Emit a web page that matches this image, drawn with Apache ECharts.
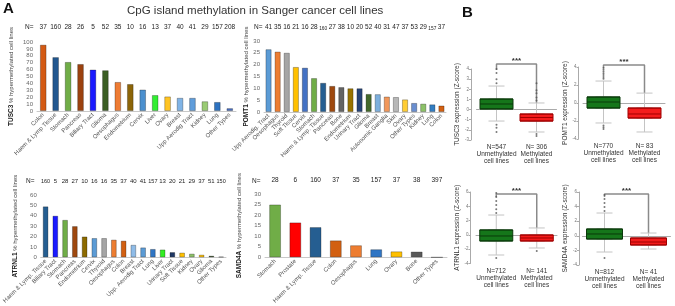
<!DOCTYPE html>
<html><head><meta charset="utf-8">
<script src="https://cdn.jsdelivr.net/npm/echarts@6/dist/echarts.min.js"></script>
<style>html,body{margin:0;padding:0;background:#fff}#c{width:675px;height:306px}</style>
</head><body><div id="c"></div>
<script>
// ---------- DATA ----------
const tusc3Cats = ['Colon','Haem & Lymp Tissue','Stomach','Pancreas','Biliary Tract','Glioma','Oesophagus','Endometrium','Cervix','Liver','Ovary','Breast','Upp Aerodig Tract','Kidney','Lung','Other Types'];
const tusc3Vals = [96,78,71,68,60,59,42,39,31,23,21,19,19,14,13,4];
const tusc3N = ['37','160','28','26','5','52','35','10','16','13','37','40','41','29','157','208'];

const pomt1Cats = ['Upp Aerodig. Tract','Oesophagus','Thyroid','Soft Tissue','Cervix','Stomach','Haem & Lymp. Tissue','Pancreas','Bone','Endometrium','Urinary Tract','Glioma','Breast','Autonomic Ganglia','Skin','Ovary','Other Types','Kidney','Lung','Colon'];
const pomt1Vals = [26.5,25.5,25,19,18.7,14.3,12.3,11,10.5,10,10,7.6,7.5,6.5,6.3,5.3,3.8,3.5,3.2,2.7];
const pomt1N = ['41','35','16','21','16','28','160','27','38','10','20','52','40','31','47','37','53','29','157','37'];

const atrnl1Cats = ['Haem & Lymp. Tissue','Biliary Tract','Stomach','Pancreas','Endometrium','Cervix','Thyroid','Oesophagus','Colon','Breast','Upp. Aerodig Tract','Lung','Liver','Urinary Tract','Soft Tissue','Kidney','Ovary','Glioma','Other Types'];
const atrnl1Vals = [49,40,36,30,20,18.5,18.5,17,16,12,9.5,8,7.5,5,4.5,3.5,2.5,1.5,0.7];
const atrnl1N = ['160','5','28','27','10','16','16','35','37','40','41','157','13','20','21','29','37','51','150'];

const samd4aCats = ['Stomach','Prostate','Haem & Lymp. Tissue','Colon','Oesophagus','Lung','Ovary','Bone','Other Types'];
const samd4aVals = [25,16.5,14.3,8,5.7,3.8,2.8,2.7,0];
const samd4aN = ['28','6','160','37','35','157','37','38','397'];

// box plots: [min, Q1, median, Q3, max]
const tusc3Groups = ['N=547\nUnmethylated\ncell lines','N= 306\nMethylated\ncell lines'];
const tusc3Box = [[-1.13,0.06,0.55,1.04,2.32],[-2.21,-1.13,-0.78,-0.44,0.65]];
const tusc3Out = [[0,4.0],[0,3.6],[0,3.0],[0,2.6],[0,-1.5],[0,-1.8],[0,-2.2],[1,2.6],[1,1.9],[1,1.6],[1,1.2],[1,0.9],[1,-2.4],[1,-2.6]];
const tusc3Bracket = [[0,3.9],[0,4.5],[1,4.5],[1,0.65]];

const pomt1Groups = ['N=770\nUnmethylated\ncell lines','N= 83\nMethylated\ncell lines'];
const pomt1Box = [[-2.22,-0.56,0.11,0.67,2.44],[-3.22,-1.67,-1.22,-0.56,1.1]];
const pomt1Out = [[0,3.9],[0,3.7],[0,3.5],[0,3.3],[0,3.1],[0,2.9],[0,2.7],[0,-2.5],[0,-2.7],[0,-2.9]];
const pomt1Bracket = [[0,3.9],[0,4.22],[1,4.22],[1,1.1]];

const atrnl1Groups = ['N=712\nUnmethylated\ncell lines','N= 141\nMethylated\ncell lines'];
const atrnl1Box = [[-2.81,-0.85,-0.15,0.69,2.78],[-1.83,-0.85,-0.43,-0.01,0.97]];
const atrnl1Out = [[0,5.86],[0,5.3],[0,4.74],[0,4.18],[0,3.6],[0,3.06],[0,-3.23],[1,-2.25]];
const atrnl1Bracket = [[0,5.3],[0,5.72],[1,5.72],[1,0.97]];

const samd4aGroups = ['N=812\nUnmethylated\ncell lines','N= 41\nMethylated\ncell lines'];
const samd4aBox = [[-2.22,-0.44,0.25,0.93,3.12],[-1.81,-1.26,-0.85,-0.3,0.38]];
const samd4aOut = [[0,5.59],[0,5.04],[0,4.5],[0,3.95],[0,3.4],[0,-3.04]];
const samd4aBracket = [[0,5.3],[0,5.73],[1,5.73],[1,0.38]];

// ---------- STYLE ----------
const FONT = 'Liberation Sans, Arial, sans-serif';
const col1 = ['#d35a14','#22578f','#70ad47','#9c420f','#1a1aff','#3b5e24','#ee7c34','#8c6508','#4b90cf','#33ee33','#ffc423','#80b4e6','#5f9ddb','#9acb74','#2d72c0','#4a6fc2'];
const col2 = ['#5b9bd5','#ed7d31','#a5a5a5','#ffc000','#4472c4','#70ad47','#255e91','#9e480e','#636363','#997300','#264478','#43682b','#7cafdd','#f1975a','#b7b7b7','#ffcd33','#698ed0','#8cc168','#327dc2','#d26012'];
const col3 = ['#255e91','#1a1aff','#70ad47','#9e480e','#8c6a00','#5b9bd5','#a5a5a5','#ed7d31','#d26012','#8fbce8','#5b9bd5','#2f75c4','#33ee22','#1f3864','#ffc000','#8cc168','#ffc000','#2e4a1c','#5077c4'];
const col4 = ['#70ad47','#ff0000','#255e91','#d26012','#ed7d31','#2f75c4','#ffc000','#595959','#888888'];

const grids=[], xAxes=[], yAxes=[], series=[], boxInfo=[];

function addBar(g, cats, vals, ns, colors, ymax, yint, gene, nameGap, gap, nMargin, nSize, nSmall){
  const gi = grids.length; grids.push(g);
  const xi = xAxes.length;
  xAxes.push({type:'category', gridIndex:gi, data:cats, axisLine:{lineStyle:{color:'#c8c8c8'}}, axisTick:{show:false},
    axisLabel:{interval:0, rotate:45, fontSize:6, color:'#555', margin:3, fontFamily:FONT}});
  xAxes.push({type:'category', gridIndex:gi, position:'top', data:ns, axisLine:{show:false}, axisTick:{show:false},
    axisLabel:{interval:0, fontSize:nSize, color:'#222', margin:nMargin, fontFamily:FONT,
      formatter: v => v.length > 2 ? '{s|' + v + '}' : v,
      rich:{s:{fontSize:nSmall, color:'#222', fontFamily:FONT}}}});
  const yi = yAxes.length;
  yAxes.push({type:'value', gridIndex:gi, min:0, max:ymax, interval:yint, axisLine:{show:false}, axisTick:{show:false},
    splitLine:{show:false}, axisLabel:{fontSize:6, color:'#666', margin:4, fontFamily:FONT},
    name:'{g|'+gene+'} % hypermethylated cell lines', nameLocation:'middle', nameGap:nameGap,
    nameTextStyle:{fontSize:6, color:'#444', fontFamily:FONT, rich:{g:{fontSize:6.5, fontWeight:'bold', color:'#222', fontFamily:FONT}}}});
  series.push({type:'bar', xAxisIndex:xi, yAxisIndex:yi, barCategoryGap:gap,
    data: vals.map((v,i)=>({value:v, itemStyle:{color:colors[i]}})),
    itemStyle:{borderColor:'rgba(0,0,0,0.35)', borderWidth:0.8}});
}

function addBox(g, groups, box, outs, bracket, ymin, ymax, yint, name, offset, nameGap, bw){
  const gi = grids.length; grids.push(g);
  const xi = xAxes.length;
  xAxes.push({type:'category', gridIndex:gi, data:groups, axisLine:{lineStyle:{color:'#aaa'}}, axisTick:{show:false},
    axisLabel:{interval:0, fontSize:6.5, color:'#333', lineHeight:7, margin:4, fontFamily:FONT}});
  xAxes.push({type:'category', gridIndex:gi, position:'top', data:groups, show:false});
  const yi = yAxes.length;
  yAxes.push({type:'value', gridIndex:gi, min:ymin, max:ymax, interval:yint, offset:offset,
    axisLine:{show:true, lineStyle:{color:'#aaa'}}, axisTick:{show:true, length:2, lineStyle:{color:'#aaa'}},
    splitLine:{show:false}, axisLabel:{fontSize:4.5, color:'#777', margin:2, fontFamily:FONT},
    name:name, nameLocation:'middle', nameGap:nameGap, nameTextStyle:{fontSize:6.5, color:'#333', fontFamily:FONT}});
  series.push({type:'line', xAxisIndex:xi, yAxisIndex:yi, data:bracket, symbol:'none', clip:false, z:1,
    lineStyle:{color:'#8a8a8a', width:1.5}, silent:true});
  series.push({type:'boxplot', xAxisIndex:xi, yAxisIndex:yi, boxWidth:[16,16], data:box, z:2,
    itemStyle:{color:'rgba(0,0,0,0)', borderColor:'#c4c4c4', borderWidth:1}, silent:true});
  series.push({type:'boxplot', xAxisIndex:xi+1, yAxisIndex:yi, boxWidth:[bw,bw], z:3, silent:true,
    data: box.map((b,i)=>({value:[b[1],b[1],b[2],b[3],b[3]],
      itemStyle: i===0 ? {color:'#15761a', borderColor:'#0a3a0a', borderWidth:1} : {color:'#f41c1c', borderColor:'#a00000', borderWidth:1}}))});
  series.push({type:'scatter', xAxisIndex:xi, yAxisIndex:yi, data:outs, symbolSize:2, z:4,
    itemStyle:{color:'#555'}, silent:true});
  boxInfo.push({xi, yi, top: bracket[1][1]});
}

addBar({left:37, top:42, width:199, height:69}, tusc3Cats, tusc3Vals, tusc3N, col1, 100, 10, 'TUSC3', 22, '48%', 11, 6.5, 6.5);
addBar({left:264, top:41, width:182, height:71}, pomt1Cats, pomt1Vals, pomt1N, col2, 30, 5, 'POMT1', 12, '34%', 10, 6.5, 4.8);
addBar({left:38, top:195, width:188, height:69}, atrnl1Cats, atrnl1Vals, atrnl1N, col3, 60, 10, 'ATRNL1', 22, '43%', 10.5, 6, 5.5);
addBar({left:265, top:194, width:182, height:70}, samd4aCats, samd4aVals, samd4aN, col4, 30, 5, 'SAMD4A', 22, '42%', 10, 6.5, 6.5);

addBox({left:476.5, top:69, width:80, height:71}, tusc3Groups, tusc3Box, tusc3Out, tusc3Bracket, -3, 4, 1, 'TUSC3 expression (Z-score)', 5.5, 9, 33);
addBox({left:583, top:67, width:82, height:72}, pomt1Groups, pomt1Box, pomt1Out, pomt1Bracket, -4, 4, 2, 'POMT1 expression (Z-score)', 4.5, 9, 33);
addBox({left:476, top:192, width:81, height:71.5}, atrnl1Groups, atrnl1Box, atrnl1Out, atrnl1Bracket, -4, 6, 2, 'ATRNL1 expression (Z-score)', 5.5, 9, 33);
addBox({left:582.5, top:192, width:88, height:73}, samd4aGroups, samd4aBox, samd4aOut, samd4aBracket, -4, 6, 2, 'SAMD4A expression (Z-score)', 3.5, 9, 36);

const chart = echarts.init(document.getElementById('c'), null, {renderer:'canvas'});
chart.setOption({
  animation:false,
  backgroundColor:'#fff',
  title:{text:'CpG island methylation in Sanger cancer cell lines', left:122, top:0,
    textStyle:{fontSize:11.5, fontWeight:'normal', color:'#333', fontFamily:FONT}},
  grid:grids, xAxis:xAxes, yAxis:yAxes, series:series
});

const graphics = [
  {type:'text', left:3, top:1, style:{text:'A', fontSize:15, fontWeight:'bold', fill:'#111', fontFamily:FONT}},
  {type:'text', left:462, top:5, style:{text:'B', fontSize:15, fontWeight:'bold', fill:'#111', fontFamily:FONT}},
  {type:'text', x:25, y:27, style:{text:'N=', fontSize:6.5, fill:'#222', fontFamily:FONT, textVerticalAlign:'middle'}},
  {type:'text', x:254, y:27, style:{text:'N=', fontSize:6.5, fill:'#222', fontFamily:FONT, textVerticalAlign:'middle'}},
  {type:'text', x:26, y:181, style:{text:'N=', fontSize:6.5, fill:'#222', fontFamily:FONT, textVerticalAlign:'middle'}},
  {type:'text', x:252, y:181, style:{text:'N=', fontSize:6.5, fill:'#222', fontFamily:FONT, textVerticalAlign:'middle'}}
];
boxInfo.forEach(b=>{
  const p0 = chart.convertToPixel({xAxisIndex:b.xi, yAxisIndex:b.yi}, [0, b.top]);
  const p1 = chart.convertToPixel({xAxisIndex:b.xi, yAxisIndex:b.yi}, [1, b.top]);
  graphics.push({type:'text', x:(p0[0]+p1[0])/2, y:p0[1]+1, style:{text:'***', fontSize:8, fontWeight:'bold', fill:'#333',
    fontFamily:FONT, textAlign:'center', textVerticalAlign:'bottom'}});
});
chart.setOption({graphic:graphics});
</script>
</body></html>
